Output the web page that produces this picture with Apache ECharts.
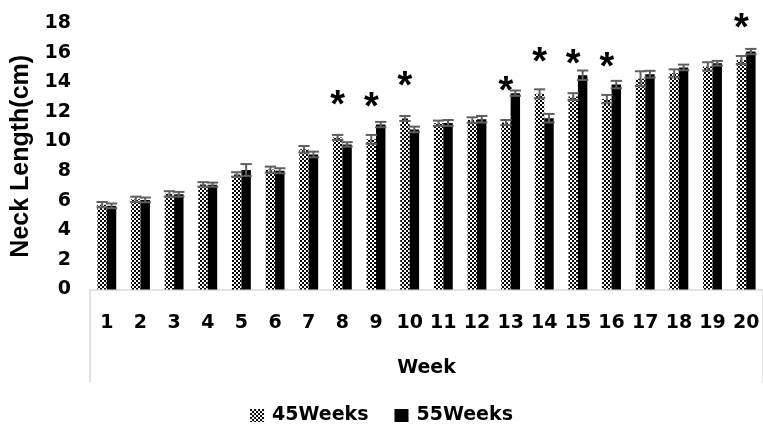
<!DOCTYPE html>
<html>
<head>
<meta charset="utf-8">
<script src="https://cdn.jsdelivr.net/npm/echarts@6/dist/echarts.min.js"></script>
<style>
  html, body { margin: 0; padding: 0; background: #fff; }
  #chart { width: 763px; height: 427px; }
</style>
</head>
<body>
<div id="chart"></div>
<script>
// Neck length by week for the two flock ages, mean ± error
const weeks = ['1','2','3','4','5','6','7','8','9','10','11','12','13','14','15','16','17','18','19','20'];
const neck45 = [5.73, 6.09, 6.46, 7.10, 7.77, 8.10, 9.47, 10.27, 10.14, 11.55, 11.23, 11.45, 11.28, 13.22, 13.03, 12.86, 14.24, 14.60, 15.07, 15.50];
const neck55 = [5.65, 6.05, 6.43, 7.08, 8.07, 8.02, 9.12, 9.80, 11.14, 10.81, 11.25, 11.50, 13.26, 11.57, 14.47, 13.84, 14.54, 15.00, 15.28, 16.07];
const err45 = [0.18, 0.18, 0.18, 0.15, 0.15, 0.20, 0.22, 0.17, 0.30, 0.17, 0.18, 0.18, 0.17, 0.30, 0.23, 0.28, 0.50, 0.27, 0.28, 0.27];
const err55 = [0.16, 0.16, 0.16, 0.14, 0.40, 0.17, 0.19, 0.15, 0.18, 0.19, 0.20, 0.22, 0.18, 0.29, 0.32, 0.25, 0.23, 0.19, 0.16, 0.18];
// weeks with a significant difference and the height of their marker
const sigWeeks = ['8', '9', '10', '13', '14', '15', '16', '20'];
const sigLevel = [12.9, 12.8, 14.2, 13.9, 15.8, 15.7, 15.5, 18.1];
const yTicks = { min: 0, max: 18, interval: 2 };

const BAR_RATIO = 0.28;   // width of each bar as a share of a category band
const ERR_COLOR = '#5f5f5f';

// small black/white checkerboard fill for the 45-week bars
function checkerPattern() {
  const c = document.createElement('canvas');
  c.width = 4; c.height = 4;
  const g = c.getContext('2d');
  g.fillStyle = '#ffffff'; g.fillRect(0, 0, 4, 4);
  g.fillStyle = '#000000'; g.fillRect(0, 0, 2, 2); g.fillRect(2, 2, 2, 2);
  return { image: c, repeat: 'repeat' };
}

function errorBars(side) {
  return function (params, api) {
    const i = api.value(0), v = api.value(1), e = api.value(2);
    const band = api.size([1, 0])[0];
    const bw = band * BAR_RATIO;
    const cx = api.coord([i, v])[0] + side * bw / 2;
    const yTop = api.coord([i, v + e])[1];
    const yBot = api.coord([i, v - e])[1];
    const hw = bw * 0.6;
    const style = { stroke: ERR_COLOR, lineWidth: 2 };
    return {
      type: 'group',
      children: [
        { type: 'line', shape: { x1: cx, y1: yTop, x2: cx, y2: yBot }, style },
        { type: 'line', shape: { x1: cx - hw, y1: yTop, x2: cx + hw, y2: yTop }, style },
        { type: 'line', shape: { x1: cx - hw, y1: yBot, x2: cx + hw, y2: yBot }, style }
      ]
    };
  };
}

// asterisk above each significant week, centred on the 45-week bar
function starMarks(params, api) {
  const i = api.value(0), lvl = api.value(1);
  const band = api.size([1, 0])[0];
  const bw = band * BAR_RATIO;
  const p = api.coord([i, lvl]);
  const size = 38;
  return {
    type: 'text',
    x: p[0] - bw / 2,
    y: p[1] + size * 0.22,
    style: {
      text: '*',
      fontFamily: 'Liberation Sans',
      fontWeight: 'bold',
      fontSize: size,
      fill: '#000',
      align: 'center',
      verticalAlign: 'middle'
    }
  };
}

const tickFont = { fontFamily: 'DejaVu Sans', fontWeight: 'bold', fontSize: 19, color: '#000' };

const chart = echarts.init(document.getElementById('chart'));
chart.setOption({
  animation: false,
  backgroundColor: '#fff',
  grid: { left: 90, right: -3, top: 23, bottom: 137.5, containLabel: false },
  legend: {
    data: ['45Weeks', '55Weeks'],
    bottom: -3,
    left: 'center',
    icon: 'rect',
    itemWidth: 14,
    itemHeight: 13,
    itemGap: 26,
    textStyle: { fontFamily: 'DejaVu Sans', fontWeight: 'bold', fontSize: 19, color: '#000', padding: [0, 0, 0, 3] }
  },
  xAxis: {
    type: 'category',
    data: weeks,
    name: 'Week',
    nameLocation: 'middle',
    nameGap: 69,
    nameTextStyle: tickFont,
    axisLine: { lineStyle: { color: '#d9d9d9', width: 1.5 } },
    axisTick: {
      show: true,
      length: 93,
      interval: function (index) { return index === 0; },
      lineStyle: { color: '#d9d9d9', width: 1.5 }
    },
    axisLabel: Object.assign({ margin: 24, interval: 0 }, tickFont),
    splitLine: { show: false }
  },
  yAxis: {
    type: 'value',
    min: yTicks.min,
    max: yTicks.max,
    interval: yTicks.interval,
    name: 'Neck Length(cm)',
    nameLocation: 'middle',
    nameGap: 56,
    nameTextStyle: { fontFamily: 'Liberation Sans', fontWeight: 'bold', fontSize: 25, color: '#000' },
    axisLine: { show: false },
    axisTick: { show: false },
    axisLabel: Object.assign({ margin: 19 }, tickFont),
    splitLine: { show: false }
  },
  series: [
    {
      name: '45Weeks',
      type: 'bar',
      data: neck45,
      barWidth: (BAR_RATIO * 100) + '%',
      barGap: '0%',
      itemStyle: { color: checkerPattern() }
    },
    {
      name: '55Weeks',
      type: 'bar',
      data: neck55,
      barWidth: (BAR_RATIO * 100) + '%',
      barGap: '0%',
      itemStyle: { color: '#000' }
    },
    {
      type: 'custom',
      renderItem: errorBars(-1),
      data: neck45.map((v, i) => [i, v, err45[i]]),
      encode: { x: 0, y: 1 },
      z: 5,
      silent: true
    },
    {
      type: 'custom',
      renderItem: errorBars(1),
      data: neck55.map((v, i) => [i, v, err55[i]]),
      encode: { x: 0, y: 1 },
      z: 5,
      silent: true
    },
    {
      type: 'custom',
      renderItem: starMarks,
      data: sigWeeks.map((w, k) => [weeks.indexOf(w), sigLevel[k]]),
      encode: { x: 0, y: 1 },
      z: 6,
      silent: true
    }
  ]
});
</script>
</body>
</html>
